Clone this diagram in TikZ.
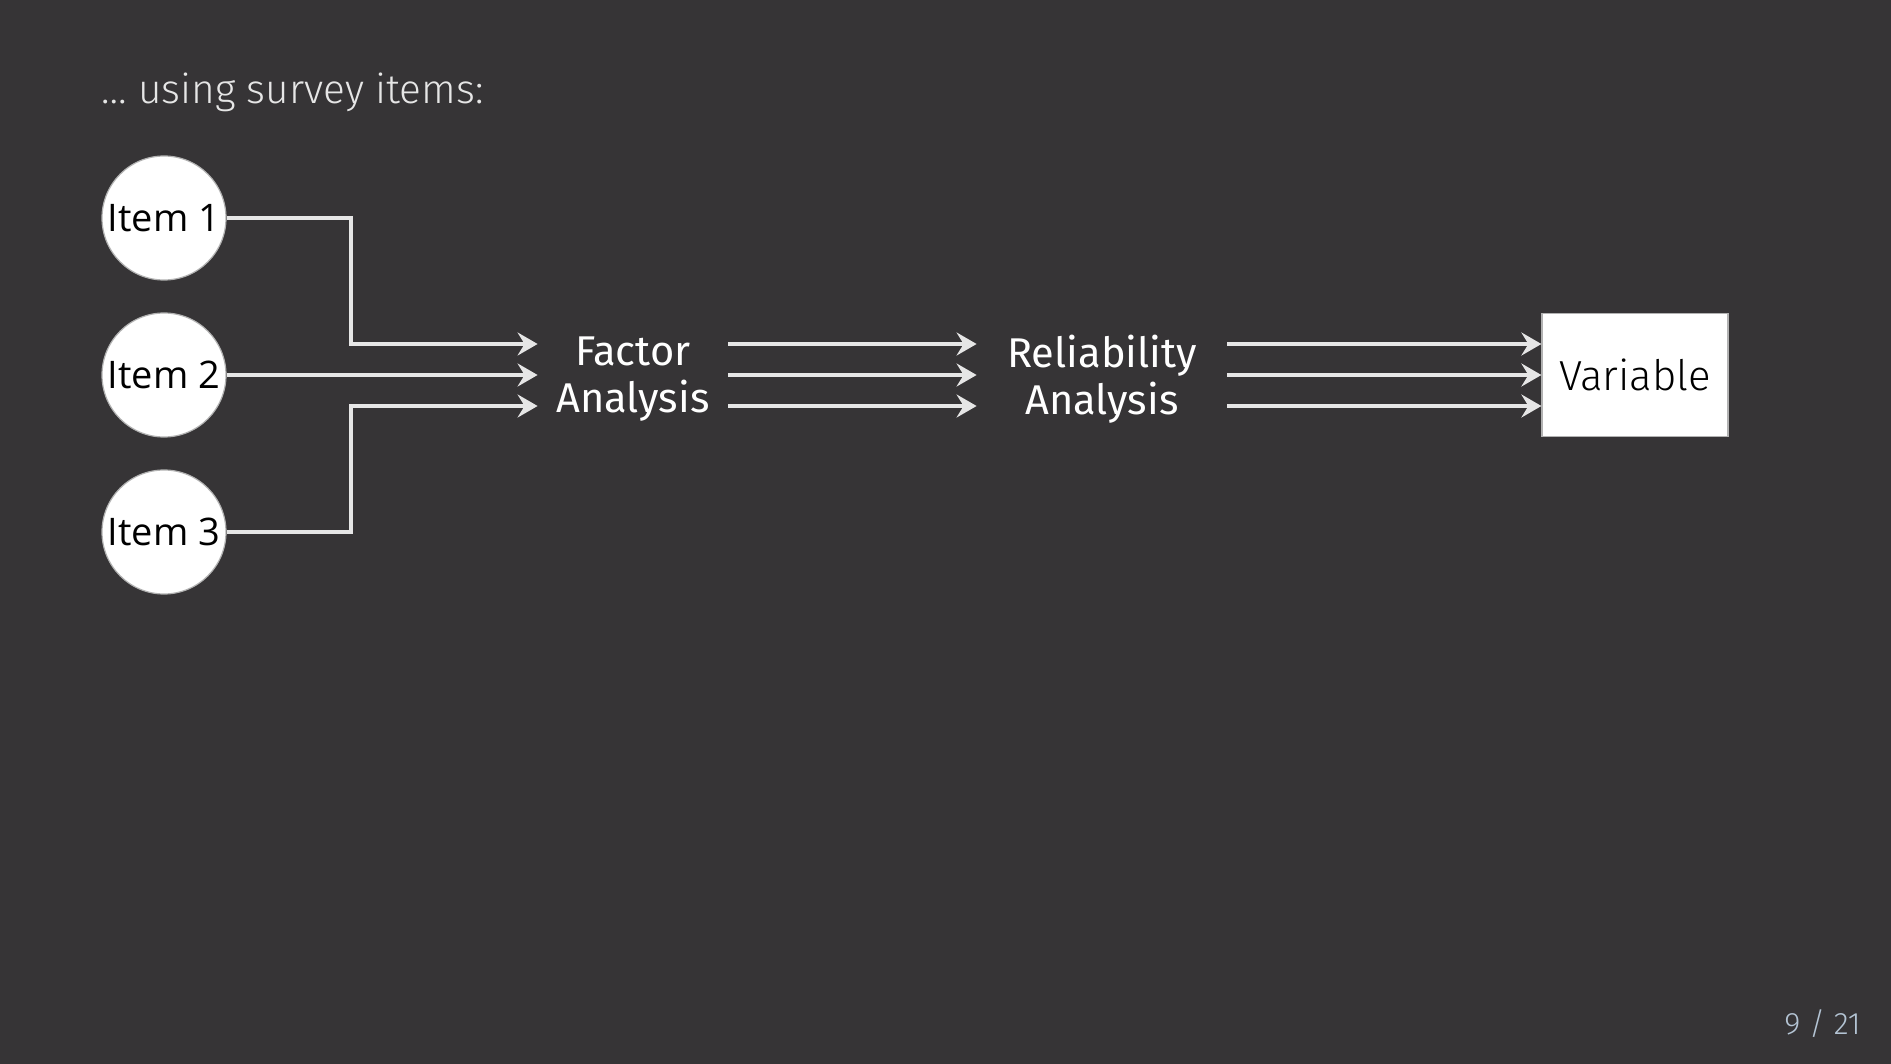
\documentclass[tikz,border=0pt]{standalone}
\usepackage{fontspec}
\setmainfont{Fira Sans}
\newfontfamily\firalight{Fira Sans Light}
\newfontfamily\opensans{Open Sans}
\usetikzlibrary{arrows.meta,calc}
\definecolor{board}{RGB}{54,52,54}
\definecolor{chalk}{RGB}{230,230,230}
\definecolor{pagenum}{RGB}{180,196,212}
\tikzset{
  itemcircle/.style={circle, fill=white, draw=gray!60, line width=0.6pt, minimum size=62pt, inner sep=0pt, font=\opensans\fontsize{19}{22}\selectfont, text=black},
  stagelabel/.style={align=center, text=white, inner sep=0pt, font=\fontsize{20.8}{23.5}\selectfont},
  varbox/.style={rectangle, fill=white, draw=gray!60, line width=0.6pt, minimum width=93pt, minimum height=61.5pt, inner sep=0pt, font=\firalight\fontsize{21}{24}\selectfont, text=black},
  conn/.style={draw=chalk, line width=1.9pt, -{Stealth[length=10pt,width=11.5pt,inset=3.5pt]}},
}
\begin{document}
\begin{tikzpicture}[x=0.5pt,y=-0.5pt]
\useasboundingbox (0,0) rectangle (1891,1064);
\fill[board] (0,0) rectangle (1891,1064);
\node[anchor=base west, text=chalk, font=\firalight\fontsize{20.3}{24}\selectfont, inner sep=0pt] (title) at (101,104) {\dots{} using survey items:};
\node[itemcircle] (c1) at (164,218) {Item 1};
\node[itemcircle] (c2) at (164,375) {Item 2};
\node[itemcircle] (c3) at (164,532) {Item 3};
\node[stagelabel, minimum width=95pt] (fa) at (633,379) {Factor\\Analysis};
\node[stagelabel, minimum width=125pt] (ra) at (1102,379) {Reliability\\Analysis};
\node[varbox] (var) at (1635,375) {Variable};
\coordinate (k) at (351,375);
\coordinate (m) at (633,375);
\coordinate (n) at (1102,375);
\draw[conn] (c1) -- (c1 -| k) |- ([yshift=15.5pt]m -| fa.west);
\draw[conn] (c2) -- (m -| fa.west);
\draw[conn] (c3) -- (c3 -| k) |- ([yshift=-15.5pt]m -| fa.west);
\foreach \s in {15.5,0,-15.5}{
  \draw[conn] ([yshift=\s pt]m -| fa.east) -- ([yshift=\s pt]n -| ra.west);
  \draw[conn] ([yshift=\s pt]n -| ra.east) -- ([yshift=\s pt]var.west);
}
\node[anchor=base east, text=pagenum, font=\firalight\fontsize{15.5}{18}\selectfont, inner sep=0pt] (pg) at (1861,1034) {9 / 21};
\end{tikzpicture}
\end{document}
